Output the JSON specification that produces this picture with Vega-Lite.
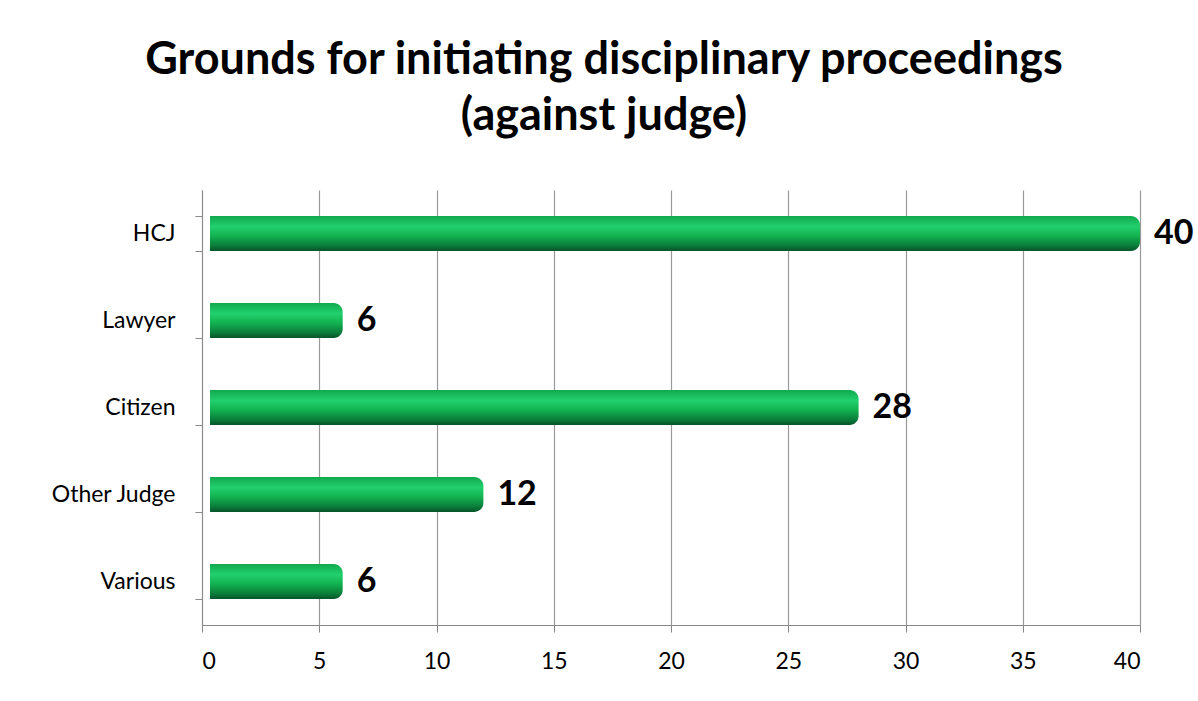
{
  "$schema": "https://vega.github.io/schema/vega-lite/v6.json",
  "width": 938,
  "height": 435,
  "autosize": {"type": "none"},
  "padding": {"left": 202, "top": 190, "right": 58, "bottom": 76},
  "background": "white",
  "title": {
    "text": ["Grounds for initiating disciplinary proceedings", "(against judge)"],
    "font": "Lato",
    "fontSize": 45,
    "fontWeight": "bold",
    "color": "black",
    "anchor": "middle",
    "dx": -67,
    "offset": 40,
    "lineHeight": 56
  },
  "data": {
    "values": [
      {"category": "HCJ", "value": 40},
      {"category": "Lawyer", "value": 6},
      {"category": "Citizen", "value": 28},
      {"category": "Other Judge", "value": 12},
      {"category": "Various", "value": 6}
    ]
  },
  "encoding": {
    "y": {
      "field": "category",
      "type": "nominal",
      "sort": null,
      "scale": {"paddingInner": 0.6, "paddingOuter": 0.3},
      "axis": {
        "title": null,
        "labelFont": "Lato",
        "labelFontSize": 23,
        "labelColor": "black",
        "labelPadding": 20,
        "domainColor": "#888888",
        "tickColor": "#888888",
        "tickBand": "extent",
        "tickSize": 7,
        "grid": false
      }
    },
    "x": {
      "field": "value",
      "type": "quantitative",
      "scale": {"domain": [0, 40], "nice": false},
      "axis": {
        "title": null,
        "values": [0, 5, 10, 15, 20, 25, 30, 35, 40],
        "labelFont": "Lato",
        "labelFontSize": 23,
        "labelColor": "black",
        "labelPadding": 18,
        "domainColor": "#888888",
        "tickColor": "#888888",
        "tickSize": 7,
        "grid": true,
        "gridColor": "#9a9a9a",
        "gridWidth": 1.2
      }
    }
  },
  "layer": [
    {
      "mark": {
        "type": "bar",
        "cornerRadius": 9,
        "xOffset": 8,
        "x2Offset": 3,
        "color": {
          "gradient": "linear",
          "x1": 0, "y1": 0, "x2": 0, "y2": 1,
          "stops": [
            {"offset": 0, "color": "#12a94d"},
            {"offset": 0.3, "color": "#22d06d"},
            {"offset": 0.55, "color": "#13b552"},
            {"offset": 0.85, "color": "#0a7d3a"},
            {"offset": 1, "color": "#06542a"}
          ]
        }
      }
    },
    {
      "mark": {
        "type": "text",
        "align": "left",
        "baseline": "middle",
        "dx": 14,
        "font": "Lato",
        "fontSize": 34,
        "fontWeight": "bold",
        "color": "black"
      },
      "encoding": {"text": {"field": "value", "type": "quantitative"}}
    }
  ],
  "config": {"view": {"stroke": null}}
}
